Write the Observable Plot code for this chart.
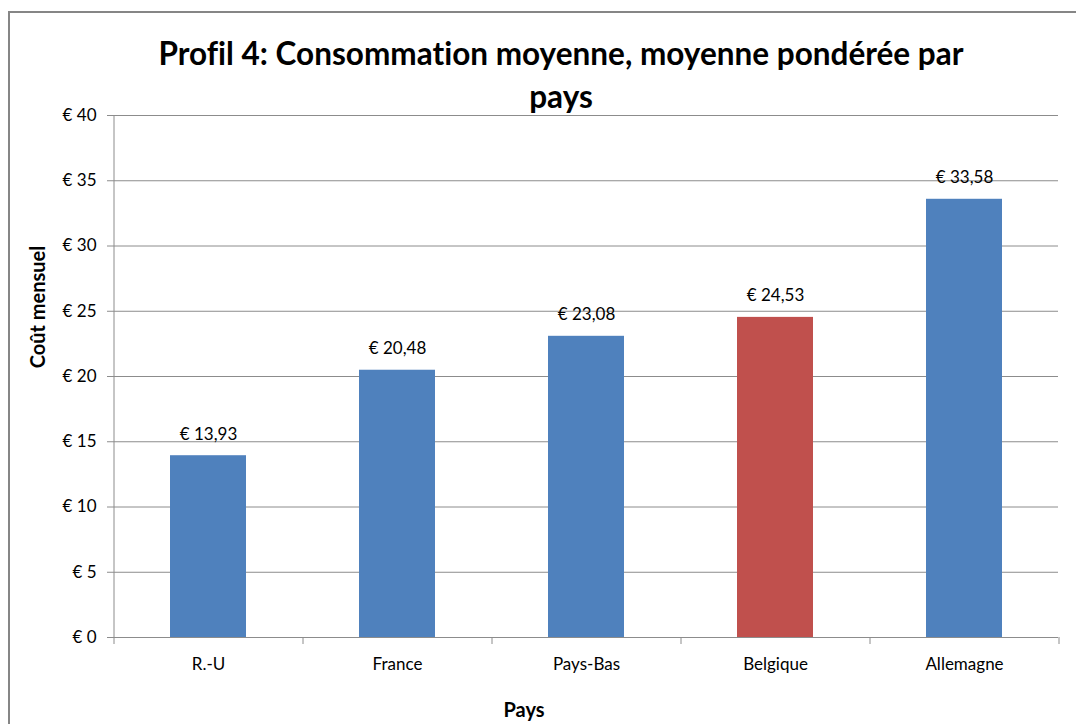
<!DOCTYPE html>
<html><head><meta charset="utf-8">
<script src="https://cdn.jsdelivr.net/npm/d3@7"></script>
<script src="https://cdn.jsdelivr.net/npm/@observablehq/plot@0.6"></script>
<style>
body{margin:0;background:#fff;}
#wrap{position:relative;width:1076px;height:724px;overflow:hidden;font-family:Lato,sans-serif;}
#frame{position:absolute;left:8px;top:11px;width:1200px;height:900px;border:2px solid #868686;box-sizing:border-box;pointer-events:none;}
#chart{position:absolute;left:0;top:0;}
svg text{font-variant-ligatures:none;}
</style></head><body>
<div id="wrap"><div id="chart"></div><div id="frame"></div></div>
<script>
const countries = ["R.-U", "France", "Pays-Bas", "Belgique", "Allemagne"];
const costs = [13.93, 20.48, 23.08, 24.53, 33.58];
const barColors = ["#4F81BD", "#4F81BD", "#4F81BD", "#C0504D", "#4F81BD"];
const yTicks = [0, 5, 10, 15, 20, 25, 30, 35, 40];
const titleLines = ["Profil 4: Consommation moyenne, moyenne pondérée par", "pays"];
const xTitle = "Pays";
const yTitle = "Coût mensuel";

const data = countries.map((c, i) => ({country: c, cost: costs[i], color: barColors[i]}));
const fmt = v => "€ " + v.toFixed(2).replace(".", ",");

const chart = Plot.plot({
  width: 1076, height: 724,
  marginLeft: 113, marginRight: 18, marginTop: 115, marginBottom: 87,
  style: {fontFamily: "Lato, sans-serif", fontSize: "17px", background: "transparent", color: "#000"},
  x: {type: "band", domain: countries, paddingInner: 0.6, paddingOuter: 0.3, axis: null},
  y: {domain: [0, 40], axis: null},
  marks: [
    Plot.ruleY(yTicks, {stroke: "#8c8c8c", insetLeft: -6}),
    Plot.ruleX(countries.slice(0, 1), {x: d => d, dx: -94.5, stroke: "#8c8c8c", insetBottom: -7}),
    Plot.ruleX(countries.slice(1), {x: d => d, dx: -94.5, stroke: "#8c8c8c", insetTop: 522, insetBottom: -7}),
    Plot.ruleX(countries.slice(-1), {x: d => d, dx: 94.5, stroke: "#8c8c8c", insetTop: 522, insetBottom: -7}),
    Plot.barY(data, {x: "country", y: "cost", fill: "color"}),
    Plot.text(data, {x: "country", y: "cost", text: d => fmt(d.cost), dy: -21.5, lineAnchor: "middle", fill: "#000"}),
    Plot.text(yTicks, {y: d => d, frameAnchor: "left", text: d => "€ " + d, textAnchor: "end", dx: -17, lineAnchor: "middle", fill: "#000"}),
    Plot.text(countries, {x: d => d, frameAnchor: "bottom", text: d => d, dy: 27, lineAnchor: "middle", fill: "#000"})
  ]
});
document.getElementById("chart").appendChild(chart);

const svg = d3.select(chart);
const t = svg.append("text").attr("text-anchor", "middle")
  .attr("font-family", "Lato, sans-serif").attr("font-weight", "bold").attr("font-size", 31.5).attr("fill", "#000");
titleLines.forEach((line, i) => t.append("tspan").attr("x", 561).attr("y", 65 + i * 43).text(line));
svg.append("text").attr("transform", "translate(45,307) rotate(-90)").attr("text-anchor", "middle")
  .attr("font-family", "Lato, sans-serif").attr("font-weight", "bold").attr("font-size", 20).attr("fill", "#000").text(yTitle);
svg.append("text").attr("x", 524).attr("y", 717).attr("text-anchor", "middle")
  .attr("font-family", "Lato, sans-serif").attr("font-weight", "bold").attr("font-size", 20).attr("fill", "#000").text(xTitle);
</script>
</body></html>
